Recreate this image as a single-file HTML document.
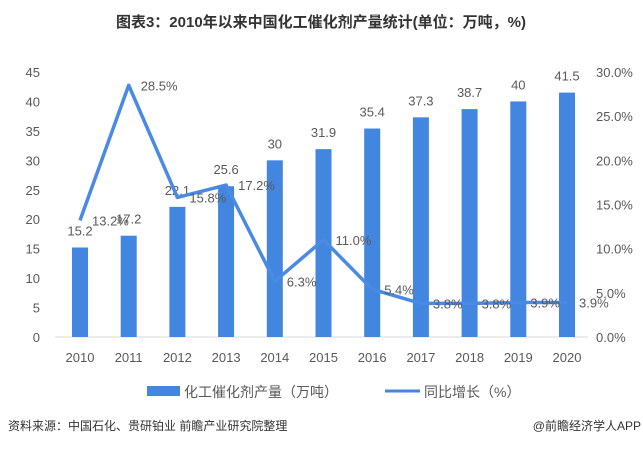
<!DOCTYPE html>
<html><head><meta charset="utf-8"><style>
body{margin:0;background:#fff;}
svg text{font-family:"Liberation Sans","Noto Sans CJK SC",sans-serif;fill:#595959;}
</style></head><body>
<svg width="643" height="446">
<text x="321" y="27" text-anchor="middle" font-size="15" font-weight="bold" style="fill:#333">图表3：2010年以来中国化工催化剂产量统计(单位：万吨，%)</text>
<g id="plot"></g>
<g>
<rect x="147" y="386" width="33" height="10" fill="#4286e0"/>
<text x="184" y="397" font-size="14">化工催化剂产量（万吨）</text>
<line x1="385" y1="391" x2="420" y2="391" stroke="#4286e0" stroke-width="3"/>
<text x="424" y="397" font-size="14">同比增长（%）</text>
</g>
<text x="8" y="430" font-size="12" style="fill:#333">资料来源：中国石化、贵研铂业 前瞻产业研究院整理</text>
<text x="641" y="430" font-size="12" text-anchor="end" style="fill:#333">@前瞻经济学人APP</text>
</svg>
<script>
const years=["2010","2011","2012","2013","2014","2015","2016","2017","2018","2019","2020"];
const output=[15.2,17.2,22.1,25.6,30,31.9,35.4,37.3,38.7,40,41.5];
const growth=[13.2,28.5,15.8,17.2,6.3,11.0,5.4,3.8,3.8,3.9,3.9];
const leftTicks=[0,5,10,15,20,25,30,35,40,45];
const rightTicks=[0,5,10,15,20,25,30];
const NS="http://www.w3.org/2000/svg";
const g=document.getElementById('plot');
const x0=80,step=48.7,yb=337,yt=72;
const xs=i=>x0+i*step;
const yl=v=>yb-v/45*(yb-yt);
const yr=v=>yb-v/30*(yb-yt);
function mk(t,a,txt){const e=document.createElementNS(NS,t);for(const k in a)e.setAttribute(k,a[k]);if(txt!==undefined)e.textContent=txt;g.appendChild(e);return e;}
leftTicks.forEach(v=>{const e=mk('text',{x:40,y:yl(v)+5,'text-anchor':'end','font-size':13},String(v));

});
rightTicks.forEach(v=>{const e=mk('text',{x:596,y:yr(v)+5,'font-size':13},v.toFixed(1)+'%');

});
const ax=mk('line',{x1:55,y1:yb,x2:588,y2:yb,stroke:'#d9d9d9','stroke-width':1});


years.forEach((y,i)=>{const e=mk('text',{x:xs(i),y:362,'text-anchor':'middle','font-size':13},y);

});
output.forEach((v,i)=>{const r=mk('rect',{x:xs(i)-8,y:yl(v),width:16,height:yb-yl(v),fill:'#4286e0'});


const t=mk('text',{x:xs(i),y:yl(v)-12,'text-anchor':'middle','font-size':13},String(v));

});
const pl=mk('polyline',{points:growth.map((v,i)=>xs(i)+','+yr(v)).join(' '),fill:'none',stroke:'#4a8ae4','stroke-width':3.5,'stroke-linejoin':'round'});


growth.forEach((v,i)=>{const t=mk('text',{x:xs(i)+12,y:yr(v)+5,'font-size':13},v.toFixed(1)+'%');

});
</script>
</body></html>
